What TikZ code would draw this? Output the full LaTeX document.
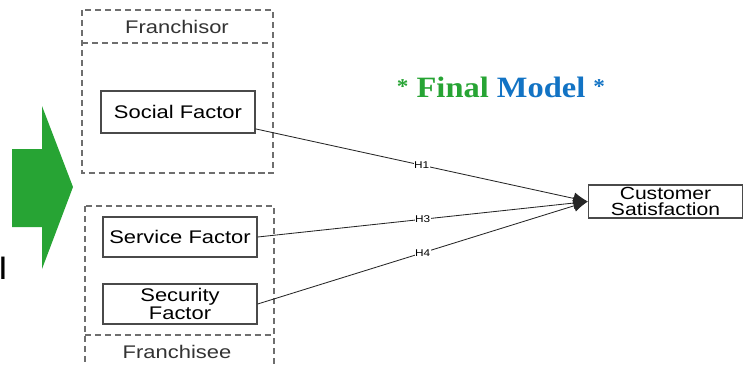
\documentclass[tikz,border=0pt]{standalone}
\usepackage{fontspec}
\setmainfont{Liberation Sans}[FakeStretch=1.2]
\newfontfamily\titlefont{Liberation Serif}[FakeStretch=1.1]
\usetikzlibrary{arrows.meta}
\definecolor{cgreen}{HTML}{27a434}
\definecolor{cblue}{HTML}{1273c4}
\definecolor{cframe}{HTML}{6e6e6e}
\definecolor{cbox}{HTML}{4a4a4a}

\tikzset{
  factor/.style={draw=cbox, line width=0.9pt, fill=white, align=center,
    font=\fontsize{13}{11.6}\selectfont, inner sep=0pt,
    minimum width=3.85cm},
  group/.style={draw=cframe, line width=1.2pt, dash pattern=on 4.3pt off 2.8pt},
  link/.style={draw=black!85, line width=0.6pt, -{Latex[length=3.6mm,width=3mm]}},
  hyp/.style={font=\fontsize{7}{7}\selectfont, fill=white, inner sep=0.4pt}
}

\begin{document}
\begin{tikzpicture}[x=0.025cm, y=-0.025cm, line cap=butt]
  \useasboundingbox (0,0) rectangle (750,364);
  \clip (0,0) rectangle (750,364);
  % big green arrow
  \fill[cgreen] (12,149) -- (42,149) -- (42,106) -- (73,187)
    -- (42,269) -- (42,227) -- (12,227) -- cycle;
  \node[anchor=base west, inner sep=0pt, font=\fontsize{22}{24}\selectfont]
    (cut) at (-1.5,279) {l};
  % group frames
  \draw[group] (82,10) rectangle (273,173);
  \draw[group] (82,43) -- (273,43);
  \node[font=\fontsize{13}{14}\selectfont, text=black!80] (fror) at (177,27) {Franchisor};
  \draw[group] (85,206) rectangle (274,380);
  \draw[group] (85,335) -- (274,335);
  \node[font=\fontsize{13}{14}\selectfont, text=black!80] (free) at (177,352) {Franchisee};
  % title
  \node[font=\titlefont\bfseries\fontsize{21}{24}\selectfont] (title) at (501,87)
    {\textcolor{cgreen}{\raisebox{0.3ex}{\fontsize{15}{15}\selectfont*} Final}
     \textcolor{cblue}{Model \raisebox{0.3ex}{\fontsize{15}{15}\selectfont*}}};
  % factors
  \node[factor, minimum height=1.05cm] (social) at (178,112) {Social Factor};
  \node[factor, minimum height=1.0cm] (service) at (180,237) {Service Factor};
  \node[factor, minimum height=1.0cm] (security) at (180,304) {Security\\Factor};
  \node[factor, minimum height=0.83cm, font=\fontsize{12.5}{11}\selectfont]
    (cs) at (665.5,201.5) {Customer\\Satisfaction};
  % hypotheses
  \draw[link] (social) -- node[hyp] {H1} (cs.west);
  \draw[link] (service.east) -- node[hyp] {H3} (cs.west);
  \draw[link] (security.east) -- node[hyp] {H4} (cs.west);
\end{tikzpicture}
\end{document}
